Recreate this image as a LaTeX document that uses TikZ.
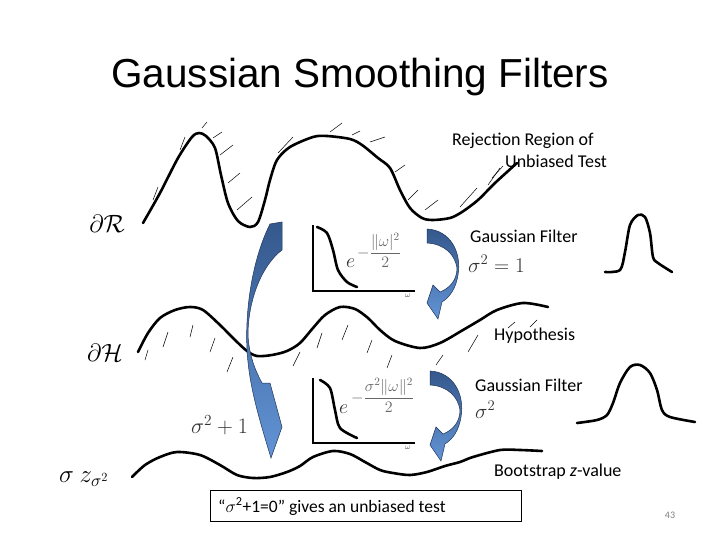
\RequirePackage{fix-cm}
\documentclass[tikz,border=0pt]{standalone}
\usepackage[no-math]{fontspec}
\setmainfont{Carlito}
\newfontfamily\titlefont{Liberation Sans}
\usetikzlibrary{shadings}
\definecolor{arrdark}{HTML}{34588C}
\definecolor{arrlight}{HTML}{6394D6}
\definecolor{arredge}{HTML}{1F3558}
\tikzset{
  curve/.style={line width=2.6pt, line cap=round, line join=round},
  hatch/.style={line width=0.5pt},
  axis/.style={line width=2.4pt},
  lbl/.style={anchor=base west, inner sep=0pt, font=\fontsize{18}{21}\selectfont},
  mathlbl/.style={inner sep=0pt, text=black!80},
  expo/.style={inner sep=0pt, anchor=base west, text=black!60, font=\fontsize{16}{18}\selectfont},
  blarrow/.style={top color=arrdark, bottom color=arrlight, draw=arredge, line width=0.5pt},
}
\begin{document}
\begin{tikzpicture}[x=1pt,y=-1pt]
\useasboundingbox (0,0) rectangle (720,540);
\fill[white] (0,0) rectangle (720,540);

% title
\node[anchor=base, inner sep=0pt, font=\titlefont\fontsize{40.5}{44}\selectfont] (title) at (360,88) {Gaussian Smoothing Filters};

% top curve (rejection region)
\draw[curve] plot[smooth, tension=0.5] coordinates {(143,223) (160,193) (178,158) (192,137) (199,133) (206,136) (215,148) (221,175) (228,203) (238,221) (250,227) (258,222) (265,200) (270,180) (277,160) (290,147) (313,137) (327,136) (350,139) (362,145) (378,158) (390,168) (400,190) (410,208) (422,218) (433,220) (450,218) (462,212) (478,200) (495,183) (517,163)};
\foreach \a/\b/\c/\d in {153/200/158/187, 180/150/185/137, 202/128/207/122, 213/138/222/132, 220/155/233/145, 228/183/240/173, 237/210/252/197, 278/153/293/137, 330/132/342/123, 352/135/360/131, 370/142/385/137, 395/172/405/165, 408/200/418/190, 425/210/438/200, 460/207/477/188, 488/185/500/168, 492/178/503/166}
  \draw[hatch] (\a,\b) -- (\c,\d);

% middle curve (hypothesis)
\draw[curve] plot[smooth, tension=0.5] coordinates {(138,352) (148,333) (160,318) (175,310) (190,307) (203,310) (220,325) (235,340) (247,351) (257,356) (272,355) (287,351) (300,343) (313,328) (325,315) (340,307) (355,309) (368,318) (380,330) (395,341) (420,348) (440,343) (463,330) (480,320) (497,310) (523,303) (548,307)};
\foreach \a/\b/\c/\d in {145/360/148/350, 163/347/168/332, 190/337/193/325, 210/352/215/338, 227/372/233/357, 293/366/300/352, 317/348/322/333, 342/340/348/325, 367/353/372/340, 387/368/392/355, 436/365/443/355, 468/352/478/335, 508/328/515/322, 530/327/537/320}
  \draw[hatch] (\a,\b) -- (\c,\d);

% bottom curve (z value)
\draw[curve] plot[smooth, tension=0.5] coordinates {(132,477) (145,465) (160,457) (177,452) (200,455) (220,465) (237,475) (253,478) (270,477) (287,472) (300,466) (313,457) (333,451) (350,454) (365,462) (380,470) (393,473) (410,475) (427,472) (445,466) (460,462) (473,457) (500,450) (520,450) (542,451)};

% Gaussian bumps
\draw[curve] plot[smooth, tension=0.5] coordinates {(605,272) (620,270) (625,252) (630,225) (638,215) (645,217) (650,233) (653,257) (658,263) (672,272)};
\draw[curve] plot[smooth, tension=0.5] coordinates {(577,423) (597,420) (607,415) (613,403) (620,383) (630,367) (640,365) (650,373) (657,390) (662,410) (670,417) (695,422)};

% insets
\draw[axis] (313,225) -- (313,291) -- (415,291);
\draw[curve] plot[smooth, tension=0.5] coordinates {(317,227) (327,233) (333,250) (338,270) (347,282) (357,287)};
\node[inner sep=0pt, text=black!70, font=\fontsize{8}{9}\selectfont] (w1) at (408,296) {$\omega$};
\node[mathlbl, anchor=base west, font=\fontsize{20}{22}\selectfont] (e1) at (346,267) {$e$};
\node[expo] (x1) at (357,257) {$-\displaystyle\frac{\|\omega|^2}{2}$};

\draw[axis] (313,378) -- (313,443) -- (415,443);
\draw[curve] plot[smooth, tension=0.5] coordinates {(320,380) (330,388) (335,410) (340,428) (357,438)};
\node[inner sep=0pt, text=black!70, font=\fontsize{8}{9}\selectfont] (w2) at (408,448) {$\omega$};
\node[mathlbl, anchor=base west, font=\fontsize{20}{22}\selectfont] (e2) at (339,413) {$e$};
\node[expo] (x2) at (351,402) {$-\displaystyle\frac{\sigma^2\|\omega\|^2}{2}$};

% blue arrows
\path[blarrow] (282,222) -- (270,224) .. controls (252,260) and (245,310) .. (247,350) .. controls (249,385) and (258,415) .. (271,458) -- (282,427) -- (270,383) -- (262,383) .. controls (255,370) and (249,355) .. (248,335) .. controls (248,300) and (262,265) .. (282,250) -- cycle;

\path[blarrow] (427,229) .. controls (450,230) and (462,252) .. (458,275) .. controls (456,288) and (450,297) .. (442,302) -- (438,319) -- (427,303) -- (433,285) -- (440,292) .. controls (450,288) and (457,280) .. (457,268) .. controls (455,255) and (445,244) .. (427,243) -- cycle;

\begin{scope}[shift={(3,142)}]
\path[blarrow] (427,229) .. controls (450,230) and (462,252) .. (458,275) .. controls (456,288) and (450,297) .. (442,302) -- (438,319) -- (427,303) -- (433,285) -- (440,292) .. controls (450,288) and (457,280) .. (457,268) .. controls (455,255) and (445,244) .. (427,243) -- cycle;
\end{scope}

% math labels on the left
\node[inner sep=0pt, font=\fontsize{25}{28}\selectfont] (dR) at (107,224) {$\partial\mathcal{R}$};
\node[inner sep=0pt, font=\fontsize{25}{28}\selectfont] (dH) at (105,353) {$\partial\mathcal{H}$};
\node[inner sep=0pt, anchor=base west, font=\fontsize{25}{28}\selectfont] (sz) at (59,482) {$\sigma\ z_{\sigma^2}$};

% sigma labels
\node[mathlbl, anchor=base west, font=\fontsize{21}{24}\selectfont] (s1) at (468,272) {$\sigma^2=1$};
\node[mathlbl, anchor=base west, font=\fontsize{21}{24}\selectfont] (s2) at (475,418) {$\sigma^2$};
\node[mathlbl, anchor=base west, font=\fontsize{22}{26}\selectfont] (s3) at (191,433) {$\sigma^2+1$};

% text labels
\node[lbl] (rej1) at (452,146) {Rejection Region of};
\node[lbl] (rej2) at (505,168) {Unbiased Test};
\node[lbl] (gf1) at (470,242) {Gaussian Filter};
\node[lbl] (hyp) at (494,340) {Hypothesis};
\node[lbl] (gf2) at (475,391) {Gaussian Filter};
\node[lbl] (boot) at (494,476) {Bootstrap \textit{z}-value};

% box
\draw[line width=0.8pt] (210,490) rectangle (521,521);
\node[anchor=base west, inner sep=0pt, font=\fontsize{17.5}{20}\selectfont] (box) at (218,512) {“$\sigma$\textsuperscript{2}+1=0” gives an unbiased test};

% page number
\node[inner sep=0pt, text=black!50, font=\fontsize{10}{12}\selectfont] (pg) at (670,515) {43};
\end{tikzpicture}
\end{document}
